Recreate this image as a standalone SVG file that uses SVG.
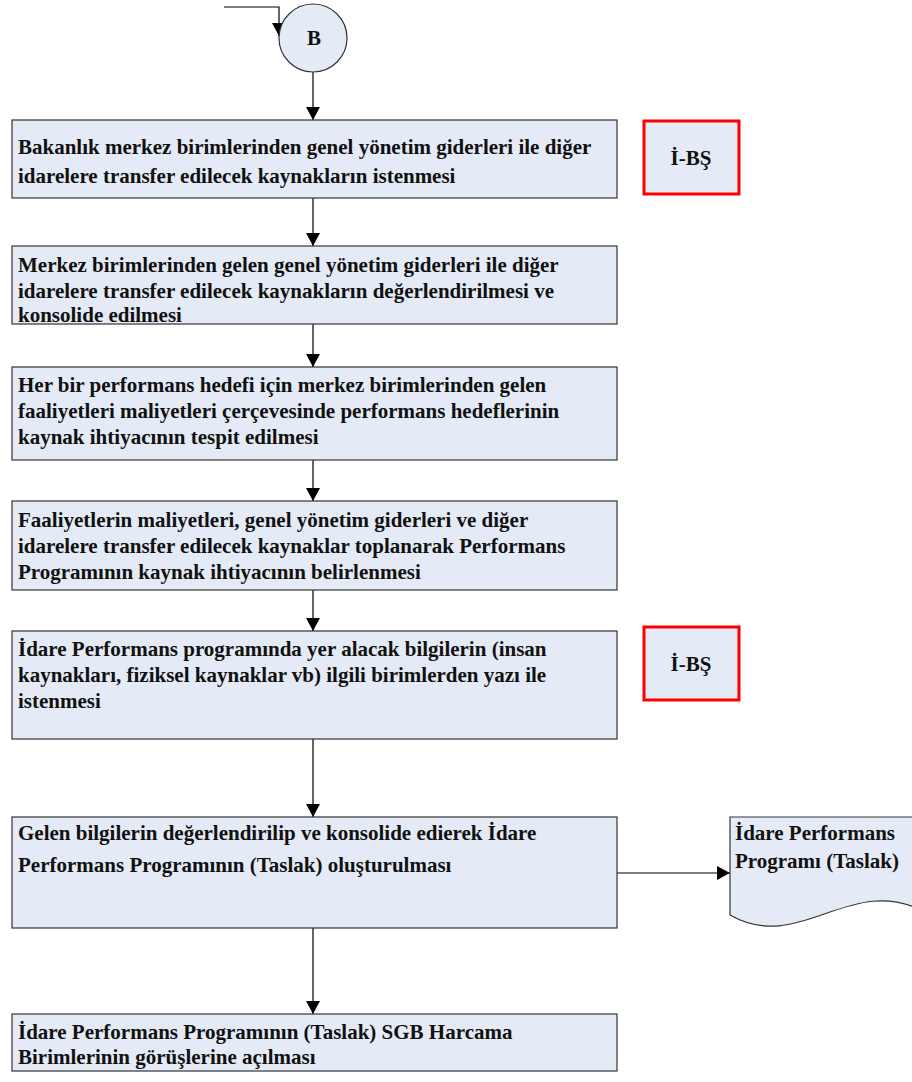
<svg xmlns="http://www.w3.org/2000/svg" width="912" height="1082" viewBox="0 0 912 1082">
<style>
.box{fill:#e5ebf6;stroke:#333;stroke-width:1.2}
.red{fill:#e5ebf6;stroke:#ff0000;stroke-width:3}
.t{font-family:"Liberation Serif","Times New Roman",serif;font-weight:bold;font-size:21px;fill:#111}
.c{stroke:#000;stroke-width:1.2;fill:none}
</style>
<defs>
<marker id="ah" markerUnits="userSpaceOnUse" markerWidth="14" markerHeight="14" refX="13" refY="7" orient="auto">
<path d="M0,0 L13,7 L0,14 Z" fill="#000"/>
</marker>
</defs>
<g id="connectors">
<path class="c" d="M224,7 H279 V36" marker-end="url(#ah)"/>
<path class="c" d="M313,72 V120" marker-end="url(#ah)"/>
<path class="c" d="M313,198 V246" marker-end="url(#ah)"/>
<path class="c" d="M313,324 V367" marker-end="url(#ah)"/>
<path class="c" d="M313,460 V501" marker-end="url(#ah)"/>
<path class="c" d="M313,590 V631" marker-end="url(#ah)"/>
<path class="c" d="M313,739 V817" marker-end="url(#ah)"/>
<path class="c" d="M313,928 V1014" marker-end="url(#ah)"/>
<path class="c" d="M617,873 H730" marker-end="url(#ah)"/>
</g>
<g id="nodeB">
<circle cx="313" cy="38" r="34" class="box"/>
<text class="t" x="314" y="45" text-anchor="middle">B</text>
</g>
<g id="n1">
<rect class="box" x="12" y="120" width="605" height="78"/>
<text class="t" x="18" y="154">Bakanlık merkez birimlerinden genel yönetim giderleri ile diğer</text>
<text class="t" x="18" y="183">idarelere transfer edilecek kaynakların istenmesi</text>
</g>
<g id="ibs1">
<rect class="red" x="644" y="121" width="95" height="73"/>
<text class="t" x="691" y="165" text-anchor="middle">İ-BŞ</text>
</g>
<g id="n2">
<rect class="box" x="12" y="246" width="605" height="78"/>
<text class="t" x="18" y="272">Merkez birimlerinden gelen genel yönetim giderleri ile diğer</text>
<text class="t" x="18" y="298">idarelere transfer edilecek kaynakların değerlendirilmesi ve</text>
<text class="t" x="18" y="322">konsolide edilmesi</text>
</g>
<g id="n3">
<rect class="box" x="12" y="367" width="605" height="93"/>
<text class="t" x="18" y="392">Her bir performans hedefi için merkez birimlerinden gelen</text>
<text class="t" x="18" y="418">faaliyetleri maliyetleri çerçevesinde performans hedeflerinin</text>
<text class="t" x="18" y="444">kaynak ihtiyacının tespit edilmesi</text>
</g>
<g id="n4">
<rect class="box" x="12" y="501" width="605" height="89"/>
<text class="t" x="18" y="527">Faaliyetlerin maliyetleri, genel yönetim giderleri ve diğer</text>
<text class="t" x="18" y="553">idarelere transfer edilecek kaynaklar toplanarak Performans</text>
<text class="t" x="18" y="579">Programının kaynak ihtiyacının belirlenmesi</text>
</g>
<g id="n5">
<rect class="box" x="12" y="631" width="605" height="108"/>
<text class="t" x="18" y="656">İdare Performans programında yer alacak bilgilerin (insan</text>
<text class="t" x="18" y="682">kaynakları, fiziksel kaynaklar vb) ilgili birimlerden yazı ile</text>
<text class="t" x="18" y="708">istenmesi</text>
</g>
<g id="ibs2">
<rect class="red" x="644" y="627" width="95" height="73"/>
<text class="t" x="691" y="671" text-anchor="middle">İ-BŞ</text>
</g>
<g id="n6">
<rect class="box" x="12" y="817" width="605" height="111"/>
<text class="t" x="18" y="840">Gelen bilgilerin değerlendirilip ve konsolide edierek İdare</text>
<text class="t" x="18" y="872">Performans Programının (Taslak) oluşturulması</text>
</g>
<g id="doc">
<path class="box" d="M730,817 H925 V912 C850,872 800,955 730,915 Z"/>
<text class="t" x="735" y="840">İdare Performans</text>
<text class="t" x="735" y="868">Programı (Taslak)</text>
</g>
<g id="n7">
<rect class="box" x="12" y="1014" width="605" height="57"/>
<text class="t" x="18" y="1039">İdare Performans Programının (Taslak) SGB Harcama</text>
<text class="t" x="18" y="1064">Birimlerinin görüşlerine açılması</text>
</g>
</svg>
